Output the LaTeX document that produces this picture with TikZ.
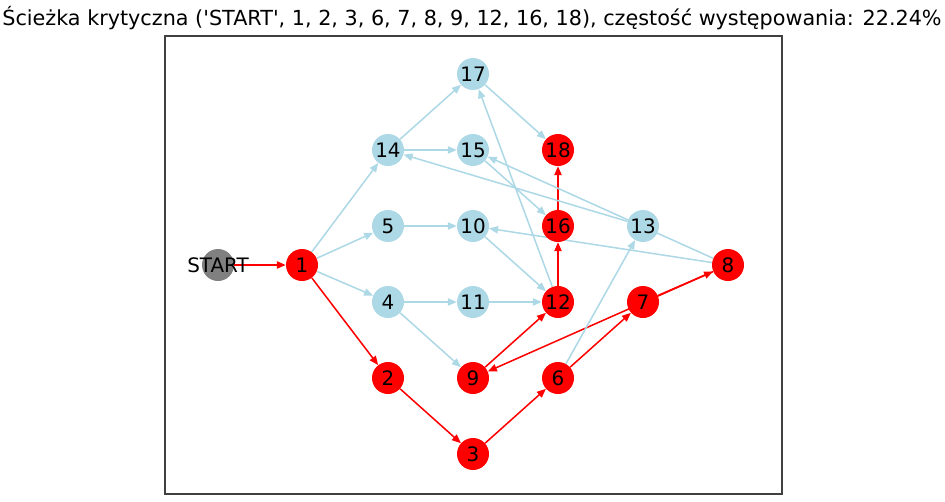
\documentclass[tikz,border=0pt]{standalone}
\usepackage{fontspec}
\newfontfamily\plotfont{DejaVu Sans}
\usetikzlibrary{arrows.meta}
\pgfdeclarelayer{edges}
\pgfsetlayers{edges,main}
\definecolor{lightblue}{RGB}{173,216,230}
\definecolor{critred}{RGB}{255,0,0}
\definecolor{startgray}{RGB}{128,128,128}
\tikzset{
  every node/.style={font=\plotfont\fontsize{17}{17}\selectfont},
  task/.style={circle, fill=lightblue, minimum size=0.96cm, inner sep=0pt},
  crit/.style={task, fill=critred},
  begin/.style={task, fill=startgray},
  cp/.style={draw=critred, line width=1.3pt},
  op/.style={draw=lightblue, line width=1.3pt},
}
\begin{document}
\begin{tikzpicture}[x=0.03cm, y=-0.03cm]
  \useasboundingbox (0,0) rectangle (945,502);
  \draw[line width=1.4pt, black!75] (165,36) rectangle (782,494);
  \node[font=\plotfont\fontsize{17.7}{17.7}\selectfont] (title) at (472,18) {Ścieżka krytyczna ('START', 1, 2, 3, 6, 7, 8, 9, 12, 16, 18), częstość występowania: 22.24\%};
  \draw
    (218,265) node[begin, label=center:START] (S){}
    (302,265) node[crit] (1){1}
    (388,378) node[crit] (2){2}
    (473,454) node[crit] (3){3}
    (388,302) node[task] (4){4}
    (388,226) node[task] (5){5}
    (558,378) node[crit] (6){6}
    (643,302) node[crit] (7){7}
    (728,265) node[crit] (8){8}
    (473,378) node[crit] (9){9}
    (473,226) node[task] (10){10}
    (473,302) node[task] (11){11}
    (558,302) node[crit] (12){12}
    (643,226) node[task] (13){13}
    (388,150) node[task] (14){14}
    (473,150) node[task] (15){15}
    (558,226) node[crit] (16){16}
    (473,74) node[task] (17){17}
    (558,150) node[crit] (18){18};
  \begin{pgfonlayer}{edges}
  \begin{scope}[-{Triangle[length=2.7mm,width=2.2mm]}]
    \draw[cp] (S) to (1);
    \draw[cp] (1) to (2);
    \draw[cp] (2) to (3);
    \draw[cp] (3) to (6);
    \draw[cp] (6) to (7);
    \draw[cp] (7) to (8);
    \draw[cp] (8) to (9);
    \draw[cp] (9) to (12);
    \draw[cp] (12) to (16);
    \draw[cp] (16) to (18);
    \draw[op] (1) to (14);
    \draw[op] (1) to (5);
    \draw[op] (1) to (4);
    \draw[op] (14) to (17);
    \draw[op] (14) to (15);
    \draw[op] (5) to (10);
    \draw[op] (4) to (11);
    \draw[op] (4) to (9);
    \draw[op] (6) to (13);
    \draw[op] (12) to (17);
    \draw[op] (10) to (12);
    \draw[op] (11) to (12);
    \draw[op] (15) to (16);
    \draw[op] (17) to (18);
    \draw[op] (13) to (14);
    \draw[op] (8) to (15);
    \draw[op] (8) to (10);
  \end{scope}
  \end{pgfonlayer}
\end{tikzpicture}
\end{document}
